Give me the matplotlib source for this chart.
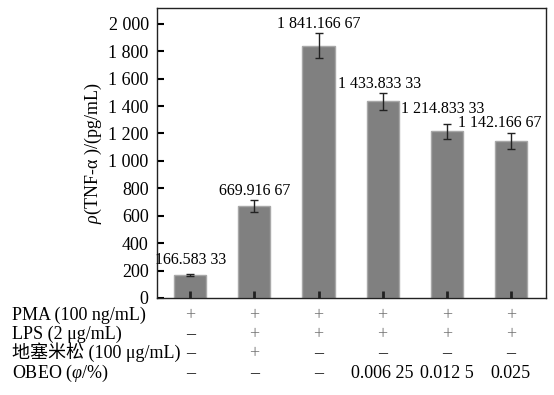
import matplotlib
matplotlib.use("Agg")
import matplotlib.pyplot as plt
from matplotlib import transforms

plt.rcParams["font.family"] = ["Liberation Serif", "Noto Sans CJK SC"]
plt.rcParams["mathtext.fontset"] = "custom"
plt.rcParams["mathtext.rm"] = "Liberation Serif"
plt.rcParams["mathtext.it"] = "Liberation Serif:italic"

# values
tnf_mean = [166.58333, 669.91667, 1841.16667, 1433.83333, 1214.83333, 1142.16667]
tnf_err = [8, 45, 88, 60, 55, 58]

row_names = ["PMA (100 ng/mL)", "LPS (2 μg/mL)", "地塞米松 (100 μg/mL)", "OBEO ($φ$/%)"]
pma_row = ["+", "+", "+", "+", "+", "+"]
lps_row = ["–", "+", "+", "+", "+", "+"]
dex_row = ["–", "+", "–", "–", "–", "–"]
obeo_row = ["–", "–", "–", "0.006 25", "0.012 5", "0.025"]


def fmt_value(v):
    s = f"{v:.5f}"
    ip, fp = s.split(".")
    groups = []
    while len(ip) > 3:
        groups.insert(0, ip[-3:])
        ip = ip[:-3]
    groups.insert(0, ip)
    frac = " ".join(fp[i:i + 3] for i in range(0, len(fp), 3))
    return " ".join(groups) + "." + frac


def thousands(v, pos=None):
    v = int(round(v))
    return f"{v:,}".replace(",", " ")


fig = plt.figure(figsize=(5.54, 3.95), dpi=100)
ax = fig.add_axes([0.2834, 0.2456, 0.7022, 0.7341])

x = list(range(len(tnf_mean)))
ax.bar(x, tnf_mean, width=0.5, color="#808080", edgecolor="#a8a8a8", linewidth=1)
ax.errorbar(x, tnf_mean, yerr=tnf_err, fmt="none", ecolor="#222222",
            elinewidth=1, capsize=3, capthick=1)

label_dx = [0, 0, 0, -2, -3, -8]
label_dy = [4, 1, 1, 1, 5, 2]
for i, (m, e) in enumerate(zip(tnf_mean, tnf_err)):
    ax.annotate(fmt_value(m), (i, m + e), xytext=(label_dx[i], label_dy[i]),
                textcoords="offset points", ha="center", va="bottom", fontsize=11.5)

ax.set_xlim(-0.52, 5.55)
ax.set_ylim(0, 2115)
ax.set_yticks(range(0, 2001, 200))
ax.yaxis.set_major_formatter(plt.FuncFormatter(thousands))
ax.set_xticks(x)
ax.set_xticklabels([])
ax.tick_params(axis="y", direction="in", length=5, width=1.5, labelsize=13, pad=6)
ax.tick_params(axis="x", direction="in", length=5, width=2, color="#222222")
for sp in ax.spines.values():
    sp.set_linewidth(1)
    sp.set_color("#222222")

ax.set_ylabel("$ρ$(TNF-α )/(pg/mL)", fontsize=13, labelpad=3)

# condition table under the axes
rows = [pma_row, lps_row, dex_row, obeo_row]
row_y = [-0.076, -0.141, -0.207, -0.276]
trans = ax.get_xaxis_transform()
name_trans = transforms.blended_transform_factory(fig.transFigure, ax.transAxes)
for name, row, yy in zip(row_names, rows, row_y):
    ax.text(12 / 554, yy, name, transform=name_trans, fontsize=13,
            ha="left", va="baseline", clip_on=False)
    for i, val in enumerate(row):
        ax.text(i, yy, val, transform=trans, ha="center", va="baseline",
                fontsize=13, clip_on=False,
                color="#707070" if val == "+" else "black")

fig.savefig("out.png", dpi=100)
